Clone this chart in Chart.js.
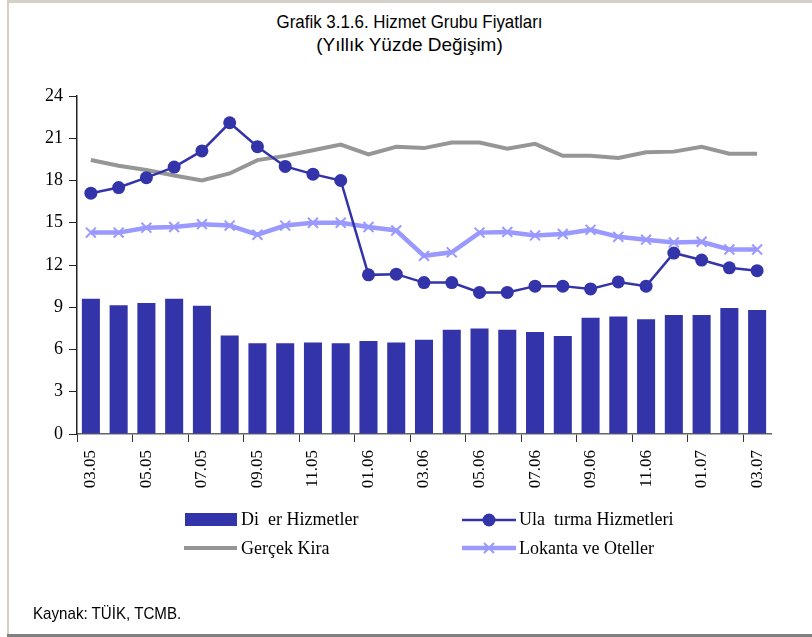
<!DOCTYPE html>
<html>
<head>
<meta charset="utf-8">
<script src="https://cdn.jsdelivr.net/npm/chart.js@4/dist/chart.umd.min.js"></script>
<style>
  html, body { margin: 0; padding: 0; background: #fff; }
  #wrap { position: relative; width: 812px; height: 637px; overflow: hidden; }
  #frame { position: absolute; left: 7px; top: 0; width: 805px; height: 634px;
           border-top: 3px solid #d4d0c8; border-left: 2px solid #d4d0c8; box-sizing: border-box; }
  #bottomLine { position: absolute; left: 7px; top: 634px; width: 805px; height: 3px; background: #808080; }
  .ttl { position: absolute; left: 7px; width: 805px; text-align: center;
         font-family: "Liberation Sans Narrow", "Arial Narrow", "Liberation Sans", sans-serif;
         font-size: 19px; color: #000; transform-origin: 50% 50%; }
  #src { position: absolute; left: 33px; top: 604px;
         font-family: "Liberation Sans Narrow", "Arial Narrow", "Liberation Sans", sans-serif;
         font-size: 17px; color: #000; transform: scaleX(0.89); transform-origin: 0 50%; }
  canvas { position: absolute; left: 0; top: 0; }
</style>
</head>
<body>
<div id="wrap">
  <div id="frame"></div>
  <div id="bottomLine"></div>
  <div class="ttl" style="top:11px; transform: scaleX(0.89);">Grafik 3.1.6. Hizmet Grubu Fiyatları</div>
  <div class="ttl" style="top:34px;">(Yıllık Yüzde Değişim)</div>
  <canvas id="hizmetChart" width="812" height="637"></canvas>
  <div id="src">Kaynak: TÜİK, TCMB.</div>
</div>
<script>
// aylar (03.05 - 03.07)
var months = ['03.05','04.05','05.05','06.05','07.05','08.05','09.05','10.05','11.05','12.05',
              '01.06','02.06','03.06','04.06','05.06','06.06','07.06','08.06','09.06','10.06',
              '11.06','12.06','01.07','02.07','03.07'];

// seri isimleri (resimde gorundugu gibi)
var seriesNames = ['Di  er Hizmetler', 'Ula  tırma Hizmetleri', 'Gerçek Kira', 'Lokanta ve Oteller'];

// Diğer Hizmetler - sutunlar
var digerHizmetler = [9.6, 9.15, 9.3, 9.6, 9.1, 7.0, 6.45, 6.45, 6.5, 6.45,
                      6.6, 6.5, 6.7, 7.4, 7.5, 7.4, 7.25, 6.95, 8.25, 8.35,
                      8.15, 8.45, 8.45, 8.95, 8.8];
// Ulaştırma Hizmetleri
var ulastirma = [17.1, 17.5, 18.2, 18.95, 20.1, 22.1, 20.4, 19.0, 18.45, 18.0,
                 11.3, 11.35, 10.75, 10.75, 10.05, 10.05, 10.5, 10.5, 10.3, 10.8,
                 10.5, 12.85, 12.35, 11.8, 11.6];
// Gerçek Kira
var gercekKira = [19.45, 19.05, 18.75, 18.35, 18.0, 18.5, 19.45, 19.75, 20.15, 20.55,
                  19.85, 20.4, 20.3, 20.7, 20.7, 20.25, 20.6, 19.75, 19.75, 19.6,
                  20.0, 20.05, 20.4, 19.9, 19.9];
// Lokanta ve Oteller
var lokanta = [14.3, 14.3, 14.65, 14.7, 14.9, 14.8, 14.15, 14.8, 15.0, 15.0,
               14.7, 14.45, 12.65, 12.9, 14.3, 14.35, 14.1, 14.2, 14.5, 14.0,
               13.8, 13.6, 13.65, 13.1, 13.1];

// y ekseni
var yMin = 0, yMax = 24, yStep = 3;

var colBar = '#3333aa';
var colUlas = '#3333aa';
var colKira = '#969696';
var colLok = '#9999ff';
var serifFont = '"Liberation Serif", "Times New Roman", serif';

// legend ciz - sabit yerlesim
var legendPlugin = {
    id: 'elLegend',
    afterDraw: function(chart) {
        var ctx = chart.ctx;
        ctx.save();
        ctx.font = '18px ' + serifFont;
        ctx.fillStyle = '#000';
        ctx.textBaseline = 'middle';
        ctx.textAlign = 'left';
        //sutun
        ctx.fillStyle = colBar;
        ctx.fillRect(185, 513, 52, 13);
        //gri cizgi
        ctx.strokeStyle = colKira;
        ctx.lineWidth = 4;
        ctx.beginPath(); ctx.moveTo(184, 548); ctx.lineTo(237, 548); ctx.stroke();
        //ulastirma
        ctx.strokeStyle = colUlas;
        ctx.lineWidth = 2.5;
        ctx.beginPath(); ctx.moveTo(462, 520); ctx.lineTo(516, 520); ctx.stroke();
        ctx.fillStyle = colUlas;
        ctx.beginPath(); ctx.arc(489, 520, 6.5, 0, Math.PI * 2); ctx.fill();
        //lokanta
        ctx.strokeStyle = colLok;
        ctx.lineWidth = 4.5;
        ctx.beginPath(); ctx.moveTo(462, 548); ctx.lineTo(516, 548); ctx.stroke();
        ctx.lineWidth = 2;
        ctx.beginPath();
        ctx.moveTo(484, 543); ctx.lineTo(494, 553);
        ctx.moveTo(494, 543); ctx.lineTo(484, 553);
        ctx.stroke();
        //yazilar
        ctx.fillStyle = '#000';
        ctx.fillText(seriesNames[0], 241, 520);
        ctx.fillText(seriesNames[2], 241, 549);
        ctx.fillText(seriesNames[1], 519, 520);
        ctx.fillText(seriesNames[3], 519, 549);
        ctx.restore();
    }
};

function initChart() {
    const el = document.getElementById('hizmetChart');
    const data = {
        labels: months,
        datasets: [{
            type: 'bar',
            label: seriesNames[0],
            data: digerHizmetler,
            backgroundColor: colBar,
            barPercentage: 0.65,
            categoryPercentage: 1.0,
            order: 4
        }, {
            type: 'line',
            label: seriesNames[1],
            data: ulastirma,
            borderColor: colUlas,
            backgroundColor: colUlas,
            borderWidth: 2.5,
            pointRadius: 6.5,
            pointStyle: 'circle',
            pointBackgroundColor: colUlas,
            pointBorderWidth: 0,
            tension: 0,
            fill: false,
            order: 1
        }, {
            type: 'line',
            label: seriesNames[2],
            data: gercekKira,
            borderColor: colKira,
            borderWidth: 4,
            pointRadius: 0,
            tension: 0,
            fill: false,
            order: 3
        }, {
            type: 'line',
            label: seriesNames[3],
            data: lokanta,
            borderColor: colLok,
            backgroundColor: colLok,
            borderWidth: 4.5,
            pointStyle: 'crossRot',
            pointRadius: 7,
            pointBorderWidth: 2,
            pointBorderColor: colLok,
            tension: 0,
            fill: false,
            order: 2
        }]
    };
    const config = {
        type: 'bar',
        data: data,
        plugins: [legendPlugin],
        options: {
            responsive: false,
            animation: false,
            layout: { padding: { left: 17, top: 96, right: 41, bottom: 123 } },
            plugins: {
                legend: { display: false },
                title: { display: false },
                tooltip: { enabled: false }
            },
            scales: {
                x: {
                    offset: true,
                    afterFit: function(s) { s.height = 80; },
                    grid: {
                        offset: true,
                        drawOnChartArea: false,
                        drawTicks: true,
                        tickLength: 8,
                        color: function(c) { return (c.index !== undefined && c.index % 2 === 0) ? '#333' : 'rgba(0,0,0,0)'; }
                    },
                    border: { color: '#666', width: 1.5 },
                    ticks: {
                        autoSkip: false,
                        maxRotation: 90,
                        minRotation: 90,
                        padding: 8,
                        color: '#000',
                        font: { family: serifFont, size: 17 },
                        callback: function(v, i) { return i % 2 === 0 ? months[i] : ''; }
                    }
                },
                y: {
                    min: yMin,
                    max: yMax,
                    afterFit: function(s) { s.width = 60; },
                    grid: { drawOnChartArea: false, drawTicks: true, tickLength: 8, color: '#222' },
                    border: { color: '#222', width: 1.5 },
                    ticks: {
                        stepSize: yStep,
                        padding: 6,
                        color: '#000',
                        font: { family: serifFont, size: 18 }
                    }
                }
            }
        }
    };
    new Chart(el, config);
}

initChart();
</script>
</body>
</html>
